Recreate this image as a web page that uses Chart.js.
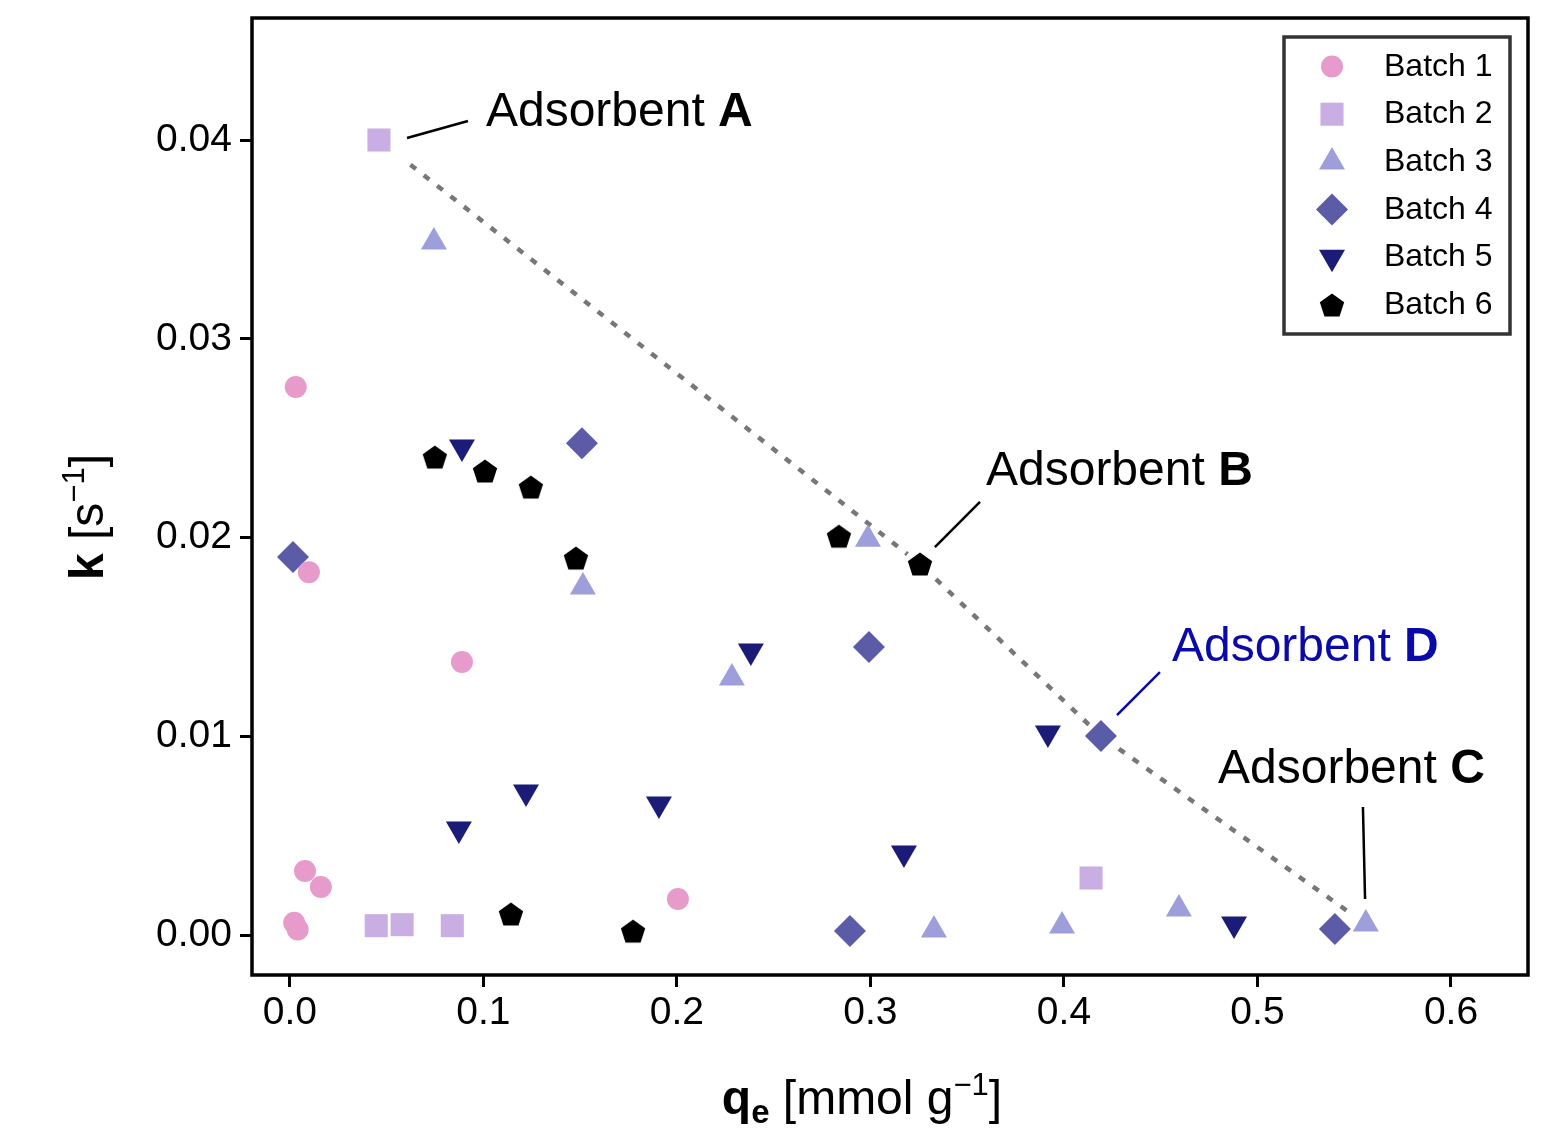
<!DOCTYPE html>
<html><head><meta charset="utf-8">
<script src="https://cdn.jsdelivr.net/npm/chart.js@4.4.1/dist/chart.umd.min.js"></script>
<style>html,body{margin:0;padding:0;background:#fff;}canvas{display:block;}</style>
</head><body>
<canvas id="c" width="1564" height="1133"></canvas>
<script>
const FONT = '"Liberation Sans", Arial, Helvetica, sans-serif';

// ---- data ----
const batchNames = ['Batch 1', 'Batch 2', 'Batch 3', 'Batch 4', 'Batch 5', 'Batch 6'];
const batch1X = [0.003, 0.0098, 0.0889, 0.0078, 0.016, 0.0022, 0.004, 0.2005];
const batch1Y = [0.02757, 0.01826, 0.01374, 0.00322, 0.00242, 0.00062, 0.00028, 0.00181];
const batch2X = [0.046, 0.0446, 0.058, 0.0839, 0.414];
const batch2Y = [0.0400, 0.00047, 0.00052, 0.00047, 0.00287];
const batch3X = [0.0744, 0.1514, 0.2284, 0.2987, 0.3328, 0.399, 0.4594, 0.556];
const batch3Y = [0.03487, 0.01751, 0.01293, 0.01992, 0.00025, 0.00045, 0.00131, 0.00055];
const batch4X = [0.0016, 0.1509, 0.2992, 0.4191, 0.2894, 0.54];
const batch4Y = [0.01902, 0.02475, 0.01449, 0.01001, 0.0002, 0.0003];
const batch5X = [0.0889, 0.2382, 0.3917, 0.0873, 0.122, 0.1907, 0.3173, 0.4879];
const batch5Y = [0.02455, 0.01429, 0.01016, 0.00533, 0.0072, 0.00659, 0.00413, 0.00055];
const batch6X = [0.0749, 0.1008, 0.1245, 0.1478, 0.2837, 0.3256, 0.1142, 0.1773];
const batch6Y = [0.02405, 0.02335, 0.02254, 0.01897, 0.02007, 0.01867, 0.00106, 0.0002];
// frontier through adsorbents A, B, D, C
const frontierX = [0.046, 0.3256, 0.4191, 0.556];
const frontierY = [0.0400, 0.01867, 0.01001, 0.00055];
// ticks
const xTickValues = [0, 0.1, 0.2, 0.3, 0.4, 0.5, 0.6];
const xTickLabels = ['0.0', '0.1', '0.2', '0.3', '0.4', '0.5', '0.6'];
const yTickValues = [0, 0.01, 0.02, 0.03, 0.04];
const yTickLabels = ['0.00', '0.01', '0.02', '0.03', '0.04'];

// ---- pentagon marker image ----
function makePentagon(R, color) {
  const c = document.createElement('canvas');
  const s = Math.ceil(2 * R + 4);
  c.width = s; c.height = s;
  const g = c.getContext('2d');
  const h = R * (1 + Math.cos(Math.PI / 5));
  const cy = s / 2 - h / 2 + R;
  g.fillStyle = color;
  g.beginPath();
  for (let i = 0; i < 5; i++) {
    const a = -Math.PI / 2 + i * 2 * Math.PI / 5;
    const px = s / 2 + R * Math.cos(a), py = cy + R * Math.sin(a);
    if (i === 0) g.moveTo(px, py); else g.lineTo(px, py);
  }
  g.closePath(); g.fill();
  return c;
}
const pentagon = makePentagon(12.8, '#000000');

const styles = [
  { pointStyle: 'circle', radius: 11, rotation: 0, color: '#e79bcb' },
  { pointStyle: 'rect', radius: 16.3, rotation: 0, color: '#c9aee3' },
  { pointStyle: 'triangle', radius: 15, rotation: 0, color: '#9e9edb' },
  { pointStyle: 'rectRot', radius: 16, rotation: 0, color: '#5b5ba8' },
  { pointStyle: 'triangle', radius: 15, rotation: 180, color: '#1b1b78' },
  { pointStyle: pentagon, radius: 13, rotation: 0, color: '#000000' }
];
const xs = [batch1X, batch2X, batch3X, batch4X, batch5X, batch6X];
const ys = [batch1Y, batch2Y, batch3Y, batch4Y, batch5Y, batch6Y];

const datasets = batchNames.map((name, i) => ({
  label: name,
  data: xs[i].map((x, j) => ({ x: x, y: ys[i][j] })),
  pointStyle: styles[i].pointStyle,
  pointRadius: styles[i].radius,
  pointRotation: styles[i].rotation,
  pointBackgroundColor: styles[i].color,
  pointBorderColor: styles[i].color,
  pointBorderWidth: 0,
  showLine: false
}));

// ---- annotations (data coords) ----
const annotations = [
  { pre: 'Adsorbent ', bold: 'A', color: '#000', tx: 0.1013, ty: 0.0407, line: [[0.0605, 0.0401], [0.092, 0.04096]] },
  { pre: 'Adsorbent ', bold: 'B', color: '#000', tx: 0.3597, ty: 0.02265, line: [[0.3333, 0.01952], [0.3566, 0.02179]] },
  { pre: 'Adsorbent ', bold: 'D', color: '#0a0aa8', tx: 0.4558, ty: 0.01379, line: [[0.4274, 0.01107], [0.4496, 0.01323]] },
  { pre: 'Adsorbent ', bold: 'C', color: '#000', tx: 0.4796, ty: 0.00765, line: [[0.5545, 0.00644], [0.5556, 0.00181]] }
];

function drawMixed(ctx, segs, x, y) {
  let cx = x;
  segs.forEach(s => {
    ctx.font = s.font;
    ctx.fillText(s.t, cx, y + (s.dy || 0));
    cx += ctx.measureText(s.t).width;
  });
  return cx - x;
}
function measureMixed(ctx, segs) {
  let w = 0;
  segs.forEach(s => { ctx.font = s.font; w += ctx.measureText(s.t).width; });
  return w;
}

const decorPlugin = {
  id: 'decor',
  beforeDatasetsDraw(chart) {
    const { ctx, chartArea: a } = chart;
    const xS = chart.scales.x, yS = chart.scales.y;
    const pts = frontierX.map((x, i) => [xS.getPixelForValue(x), yS.getPixelForValue(frontierY[i])]);
    ctx.save();
    ctx.beginPath(); ctx.rect(a.left, a.top, a.right - a.left, a.bottom - a.top); ctx.clip();
    ctx.strokeStyle = '#777777';
    ctx.lineWidth = 4.5;
    ctx.setLineDash([7, 10]);
    for (let i = 0; i < pts.length - 1; i++) {
      const [x0, y0] = pts[i], [x1, y1] = pts[i + 1];
      const L = Math.hypot(x1 - x0, y1 - y0);
      const ux = (x1 - x0) / L, uy = (y1 - y0) / L;
      const s0 = i === 0 ? 40 : 22;
      const s1 = i === pts.length - 2 ? 18 : 16;
      ctx.beginPath();
      ctx.moveTo(x0 + ux * s0, y0 + uy * s0);
      ctx.lineTo(x1 - ux * s1, y1 - uy * s1);
      ctx.stroke();
    }
    ctx.restore();
  },
  afterDatasetsDraw(chart) {
    const { ctx, chartArea: a } = chart;
    const xS = chart.scales.x, yS = chart.scales.y;
    ctx.save();
    annotations.forEach(an => {
      ctx.strokeStyle = an.color;
      ctx.lineWidth = 2.5;
      ctx.setLineDash([]);
      ctx.beginPath();
      ctx.moveTo(xS.getPixelForValue(an.line[0][0]), yS.getPixelForValue(an.line[0][1]));
      ctx.lineTo(xS.getPixelForValue(an.line[1][0]), yS.getPixelForValue(an.line[1][1]));
      ctx.stroke();
      ctx.fillStyle = an.color;
      ctx.textAlign = 'left';
      ctx.textBaseline = 'alphabetic';
      drawMixed(ctx, [
        { t: an.pre, font: '48px ' + FONT },
        { t: an.bold, font: 'bold 48px ' + FONT }
      ], xS.getPixelForValue(an.tx), yS.getPixelForValue(an.ty));
    });
    // frame
    ctx.strokeStyle = '#000';
    ctx.lineWidth = 3.5;
    ctx.strokeRect(a.left, a.top, a.right - a.left, a.bottom - a.top);

    // legend
    const lx = 1284, ly = 37, lw = 226, lh = 297;
    ctx.fillStyle = '#fff';
    ctx.fillRect(lx, ly, lw, lh);
    ctx.strokeStyle = '#333333';
    ctx.lineWidth = 3.5;
    ctx.strokeRect(lx, ly, lw, lh);
    batchNames.forEach((name, i) => {
      const my = 66.5 + i * 47.7;
      const st = styles[i];
      ctx.fillStyle = st.color;
      ctx.strokeStyle = st.color;
      Chart.helpers.drawPoint(ctx, { pointStyle: st.pointStyle, radius: st.radius, rotation: st.rotation, borderWidth: 0 }, 1332, my);
      ctx.fillStyle = '#000';
      ctx.font = '32px ' + FONT;
      ctx.textAlign = 'left';
      ctx.textBaseline = 'alphabetic';
      ctx.fillText(name, 1384, my + 9);
    });

    // axis titles
    ctx.fillStyle = '#000';
    const xt = [
      { t: 'q', font: 'bold 48px ' + FONT },
      { t: 'e', font: 'bold 33px ' + FONT, dy: 9 },
      { t: ' [mmol g', font: '48px ' + FONT },
      { t: '\u22121', font: '31px ' + FONT, dy: -19 },
      { t: ']', font: '48px ' + FONT }
    ];
    const xw = measureMixed(ctx, xt);
    drawMixed(ctx, xt, 862 - xw / 2, 1114);
    const yt = [
      { t: 'k', font: 'bold 48px ' + FONT },
      { t: ' [s', font: '48px ' + FONT },
      { t: '\u22121', font: '31px ' + FONT, dy: -19 },
      { t: ']', font: '48px ' + FONT }
    ];
    const yw = measureMixed(ctx, yt);
    ctx.translate(103, 517);
    ctx.rotate(-Math.PI / 2);
    drawMixed(ctx, yt, -yw / 2, 0);
    ctx.restore();
  }
};

function zeroPad(s) { s.paddingTop = 0; s.paddingBottom = 0; s.paddingLeft = 0; s.paddingRight = 0; }
const tickFont = { family: FONT, size: 39 };
new Chart(document.getElementById('c').getContext('2d'), {
  type: 'scatter',
  data: { datasets },
  plugins: [decorPlugin],
  options: {
    responsive: false,
    animation: false,
    devicePixelRatio: 1,
    layout: { padding: { top: 18, right: 36, left: 0, bottom: 0 } },
    plugins: { legend: { display: false }, tooltip: { enabled: false } },
    scales: {
      x: {
        type: 'linear', min: -0.0196, max: 0.6398,
        afterFit(s) { s.height = 1133 - 975; zeroPad(s); },
        afterBuildTicks(s) { s.ticks = xTickValues.map(v => ({ value: v })); },
        border: { display: false },
        grid: { display: true, drawOnChartArea: false, drawTicks: true, tickLength: 12, tickWidth: 3, tickColor: '#000', color: '#000' },
        ticks: { includeBounds: false, autoSkip: false, maxRotation: 0, padding: 3, color: '#000', font: tickFont,
                 callback: (v, i) => xTickLabels[i] }
      },
      y: {
        type: 'linear', min: -0.00201, max: 0.04614,
        afterFit(s) { s.width = 252; zeroPad(s); },
        afterBuildTicks(s) { s.ticks = yTickValues.map(v => ({ value: v })); },
        border: { display: false },
        grid: { display: true, drawOnChartArea: false, drawTicks: true, tickLength: 12, tickWidth: 3, tickColor: '#000', color: '#000' },
        ticks: { includeBounds: false, autoSkip: false, padding: 8, color: '#000', font: tickFont,
                 callback: (v, i) => yTickLabels[i] }
      }
    }
  }
});
</script>
</body></html>
